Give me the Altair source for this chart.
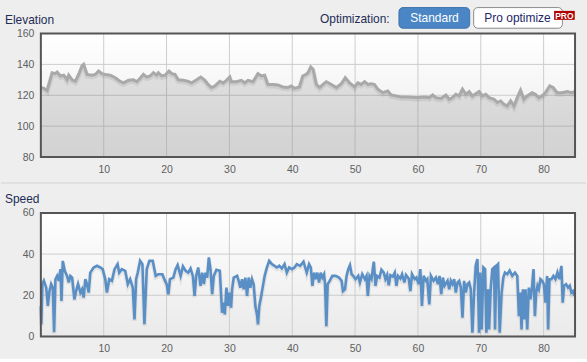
import altair as alt
import pandas as pd

# ---------------- data ----------------
elev_km = [0, 0.48, 1.0, 1.27, 1.8, 2.32, 2.59, 3.12, 3.64, 4.17,
           4.44, 4.97, 5.49, 6.02, 6.55, 6.81, 7.34, 8.13, 8.66, 9.19,
           9.72, 10.25, 11.04, 11.83, 12.63, 13.15, 13.95, 14.74, 15.27, 15.8,
           16.32, 16.85, 17.38, 17.91, 18.44, 18.7, 19.23, 19.76, 20.39, 20.81,
           21.34, 21.87, 22.66, 23.45, 23.98, 24.78, 25.46, 26.1, 26.62, 27.15,
           27.68, 28.47, 29.0, 29.53, 30.06, 30.32, 31.11, 31.91, 32.44, 32.96,
           33.76, 34.55, 35.08, 35.6, 36.13, 36.93, 37.72, 38.51, 39.3, 39.83,
           40.36, 41.15, 41.68, 42.21,
           42.52, 42.95, 43.32, 43.85, 44.37, 44.9, 45.43, 46.22, 47.02, 47.81,
           48.44, 49.13, 49.92, 50.45, 50.98, 51.51, 52.03, 52.56, 53.09, 53.62,
           54.41, 55.2, 55.73, 56.52, 57.32, 58.37, 59.43, 60.22, 61.01, 61.81,
           62.34, 62.86, 63.66, 64.45, 64.98, 65.5, 66.03, 66.56, 67.09, 67.62,
           68.15, 68.67, 69.2, 69.73, 70.26, 70.79, 71.32, 72.11, 72.64, 73.16,
           73.69, 74.22, 74.75, 75.28, 75.81, 76.33, 76.86, 77.39, 78.18, 78.71,
           79.24, 79.77, 80.3, 80.98, 81.51, 82.14, 82.94, 83.73, 84.52, 85]
elev_m = [125, 124.5, 123, 127, 134.6, 134, 135, 132.5, 133, 130,
          133, 130, 129, 133.5, 139, 140, 133.5, 133, 133.5, 135.7,
          134, 133.5, 133, 131.4, 129, 128, 129.7, 130, 128.8, 131,
          133.5, 131.8, 132.5, 134.6, 133, 134.6, 132.5, 133, 135.7, 134,
          133.5, 130, 129.7, 129, 128, 130, 131.8, 129.7, 127, 125,
          126, 129, 128, 129.7, 131.8, 128.8, 128.8, 129.7, 128, 129.7,
          128.8, 134, 132.5, 133, 127, 127, 126.7, 125.4, 125, 126,
          124.5, 125.4, 132.5, 133.5,
          134.6, 138.3, 136.8, 127, 125, 127, 128.8, 127, 125, 127.5,
          131.4, 128, 125.4, 128, 127, 128.8, 127, 127.5, 127, 123.9,
          121.7, 122.8, 120.2, 119.6, 118.9, 118.9, 118.5, 118.5, 118.9, 118.5,
          120.2, 118.5, 118, 120.2, 117.4, 118.5, 120.6, 119.6, 123.9, 120.6,
          122.4, 119.6, 121, 122.4, 119.6, 120.6, 118.5, 117.4, 115.3, 116.3,
          114.2, 113.1, 116.3, 113.1, 118.5, 123.2, 117.4, 119.6, 121.7, 120.6,
          118.5, 119.6, 121.7, 126, 125, 121.7, 121.7, 122.4, 121.7, 122.5]

speed_km = [0, 0.08, 0.25, 0.48, 0.85, 1.11, 1.37, 1.64, 1.90, 2.11,
            2.32, 2.59, 2.85, 3.12, 3.28, 3.49, 3.80, 4.17, 4.44, 4.70,
            4.97, 5.34, 5.60, 5.92, 6.29, 6.55, 6.81, 7.08, 7.34, 7.61,
            7.87, 8.40, 8.93, 9.46, 9.83, 10.25, 10.51, 10.88, 11.30, 11.73,
            12.20, 12.47, 12.89, 13.42, 13.84, 14.21, 14.63, 14.90, 15.16, 15.42,
            15.80, 16.16, 16.48, 16.85, 17.27, 17.80, 18.28, 18.70, 19.33, 19.65,
            20.02, 20.29, 20.55, 21.08, 21.45, 21.76,
            22.24, 22.61, 23.03, 23.45, 23.82, 24.19, 24.46, 24.72, 25.04, 25.41,
            25.67, 25.94, 26.20, 26.47, 26.73, 26.99, 27.26, 27.52, 27.94, 28.47,
            28.84, 29.11, 29.27, 29.53, 29.79, 30.00, 30.27, 30.43, 30.69, 31.22,
            31.48, 31.75, 32.01, 32.28, 32.54, 32.81, 33.07, 33.33, 33.60, 33.86,
            34.13, 34.39, 34.55, 34.76, 35.02, 35.29, 35.61, 35.97, 36.34, 36.77,
            37.19, 37.56, 37.93, 38.35, 38.77, 39.14, 39.51, 39.94, 40.36, 40.73,
            41.26, 41.79, 42.31, 42.68,
            42.95, 43.21, 43.48, 43.74, 44.00, 44.27, 44.53, 44.80, 45.06, 45.22,
            45.43, 45.64, 45.96, 46.38, 46.91, 47.44, 47.86, 48.07, 48.39, 48.65,
            48.92, 49.18, 49.45, 49.71, 50.08, 50.50, 50.77, 51.14, 51.56, 51.82,
            52.03, 52.30, 52.61, 52.98, 53.25, 53.51, 53.88, 54.20, 54.57, 54.83,
            55.10, 55.36, 55.63, 56.00, 56.31, 56.58, 56.84, 57.21, 57.48, 57.84,
            58.11, 58.53, 58.80, 59.06, 59.48, 59.75, 60.12, 60.38, 60.64, 60.91,
            61.28, 61.49, 61.81, 62.07, 62.49, 62.86, 63.18, 63.44, 63.71, 63.97,
            64.24,
            64.71, 64.98, 65.24, 65.50, 65.77, 66.03, 66.30, 66.56, 66.83, 67.09,
            67.35, 67.62, 67.88, 68.15, 68.41, 68.67, 68.94, 69.20, 69.47, 69.73,
            69.94, 70.15, 70.42, 70.68, 70.89, 71.16, 71.32, 71.58, 71.84, 72.11,
            72.27, 72.48, 72.74, 73.01, 73.32, 73.59, 73.85, 74.22, 74.59, 75.01,
            75.44, 75.81, 76.07, 76.28, 76.49, 76.70, 76.91, 77.13, 77.39, 77.65,
            77.92, 78.18, 78.39, 78.61, 78.82, 79.03, 79.24, 79.50, 79.77, 80.03,
            80.30, 80.56, 80.72, 80.93, 81.25, 81.56, 81.88, 82.20, 82.51, 82.83,
            83.04, 83.25, 83.57, 83.89, 84.15, 84.42, 84.68, 84.89]
speed_kmh = [14.8, 5.9, 25.4, 27, 23.7, 14.8, 22, 25.4, 23.7, 2.1,
             27.8, 29.4, 27, 32.7, 17.2, 36.7, 31.9, 29.4, 26.2, 29.4,
             28.6, 18, 22, 25.4, 21.3, 22.9, 18.9, 27.8, 25.4, 21.3,
             31, 33.5, 34.3, 33.5, 32.7, 27.8, 21.3, 27.8, 27, 32.7,
             35.1, 31, 32.7, 31.9, 25.4, 27.8, 23.7, 8.3, 27.8, 31,
             36.7, 35.1, 5.9, 32.7, 36.7, 36.7, 29.4, 30.2, 30.2, 27.8,
             25.4, 20.5, 27.8, 28.6, 32.7, 34.6,
             29.4, 34, 31.9, 31, 33, 29.4, 19.7, 29.4, 33.5, 24.6,
             31, 25.4, 31, 28.6, 38.4, 32.7, 20.5, 29.4, 32.4, 31.9,
             11.5, 16.4, 10.7, 23.7, 14.8, 21.3, 14, 22.9, 28.6, 29.4,
             27, 23.7, 27.8, 22.9, 28.6, 19.7, 28.6, 23.7, 27.8, 25.4,
             14.8, 10.7, 5.9, 14.8, 18.9, 23.7, 29.4, 33.5, 36.7, 35.1,
             34.3, 33.5, 34.3, 33, 35.1, 31, 33.5, 32.7, 33.5, 35.1,
             34.3, 36.3, 31, 35.1,
             33.5, 24.6, 31, 27.8, 31, 26.2, 31, 28.6, 30.2, 25.4,
             5, 25.4, 27, 29.4, 29.4, 28.6, 27, 22, 22.9, 29.4,
             32.7, 34.6, 30.2, 29.4, 27.8, 29.4, 26.2, 30.2, 27.8, 29.4,
             19.7, 29.4, 27.8, 36.3, 24.6, 29.4, 28.6, 32.4, 31, 27.8,
             29.8, 24.9, 29.8, 29.1, 31, 24.6, 29.4, 28.1, 30.2, 26.2,
             29.8, 28.1, 22, 30.2, 27.8, 28.6, 25.4, 32.7, 14.8, 29.4,
             27, 27.8, 15.6, 29.4, 27, 28.6, 25.4, 29.4, 20.5, 28.6,
             24.6,
             27, 22.9, 27, 25.4, 27.8, 21.3, 26.2, 27, 23.7, 9.1,
             27, 21.3, 25.4, 26.2, 22.9, 1.8, 21.3, 34.3, 37.6, 1.8,
             31, 3.4, 33.5, 32.7, 1.8, 22.9, 3.4, 22.9, 32.7, 33.5,
             3.4, 34.3, 35.1, 1.8, 21.3, 28.6, 31, 30.2, 32, 29.4,
             31, 29.4, 9.9, 21.3, 3.4, 22.9, 8.3, 22.9, 3.4, 23.7,
             18, 24.6, 32.7, 9.9, 21.3, 24.6, 22.9, 27.8, 27, 25.4,
             16.4, 29.4, 3.4, 27.8, 27.8, 29.4, 27.8, 31, 27.8, 34.3,
             16.4, 24.6, 25.4, 23.7, 24.6, 21.3, 22, 19.7]

x_ticks = [10, 20, 30, 40, 50, 60, 70, 80]
elev_ticks = [80, 100, 120, 140, 160]
speed_ticks = [0, 20, 40, 60]

FONT = "Liberation Sans"
TITLE_COLOR = "#1d2d55"
LABEL_COLOR = "#606060"
GRID = "#cdcdcd"
W, H = 536, 124

elev_df = pd.DataFrame({"km": elev_km, "elev": elev_m})
speed_df = pd.DataFrame({"km": speed_km, "speed": speed_kmh})
one = pd.DataFrame({"a": [0]})

x_axis = alt.Axis(values=x_ticks, title=None, grid=False, domain=False, ticks=False,
                  labelPadding=7, labelFlush=False)
x_scale = alt.Scale(domain=[0, 85], nice=False, zero=False)
x_enc = alt.X("km:Q", scale=x_scale, axis=x_axis)

BG = alt.LinearGradient(
    gradient="linear", x1=0, x2=0, y1=0, y2=1,
    stops=[alt.GradientStop(color="#ffffff", offset=0),
           alt.GradientStop(color="#eaeaea", offset=1)])


def deco_text(txt, x, y, size=12, color=TITLE_COLOR, align="left", weight="normal"):
    return alt.Chart(one).mark_text(
        text=txt, align=align, baseline="middle", font=FONT, fontSize=size,
        color=color, fontWeight=weight
    ).encode(x=alt.value(x), y=alt.value(y))


def deco_rect(x, x2, y, y2, fill, stroke=None, radius=0, sw=1):
    kw = dict(fill=fill, cornerRadius=radius)
    if stroke:
        kw.update(stroke=stroke, strokeWidth=sw)
    return alt.Chart(one).mark_rect(**kw).encode(
        x=alt.value(x), x2=alt.value(x2), y=alt.value(y), y2=alt.value(y2))


def background():
    return alt.Chart(one).mark_rect(fill=BG).encode(
        x=alt.value(0), x2=alt.value(W), y=alt.value(0), y2=alt.value(H))


def frame():
    return alt.Chart(one).mark_rect(fill="transparent", stroke="#555555", strokeWidth=2).encode(
        x=alt.value(0), x2=alt.value(W), y=alt.value(0), y2=alt.value(H))


def vgrid():
    return alt.Chart(pd.DataFrame({"km": x_ticks})).mark_rule(
        color=GRID, strokeWidth=1).encode(x=alt.X("km:Q", scale=x_scale, axis=x_axis))


def hgrid(field, ticks, yenc):
    return alt.Chart(pd.DataFrame({field: ticks})).mark_rule(
        color=GRID, strokeWidth=1).encode(y=yenc)


# ---------------- elevation ----------------
ey = alt.Y("elev:Q", scale=alt.Scale(domain=[80, 160], nice=False, zero=False),
           axis=alt.Axis(values=elev_ticks, title=None, domain=False, ticks=False,
                         grid=False, labelPadding=7))
elev_area = alt.Chart(elev_df).mark_area(
    color="#000000", opacity=0.1, interpolate="linear"
).encode(x=x_enc, y=ey, y2=alt.datum(80))
elev_shadow = alt.Chart(elev_df).mark_line(
    color="#000000", opacity=0.07, strokeWidth=5, yOffset=1.5
).encode(x=x_enc, y=ey)
elev_line = alt.Chart(elev_df).mark_line(
    color="#a9a9a9", strokeWidth=3
).encode(x=x_enc, y=ey)

top = alt.layer(
    background(), vgrid(), hgrid("elev", elev_ticks, ey),
    elev_area, elev_shadow, elev_line, frame(),
    deco_text("Elevation", -36, -14),
    deco_text("Optimization:", 350, -15, color=TITLE_COLOR, align="right"),
    deco_rect(359.3, 430.3, -26, -5.3, "#4a86c6", stroke="#3f72aa", radius=4),
    deco_text("Standard", 395, -15.5, color="#ffffff", align="center"),
    deco_rect(434.3, 523.3, -26, -5.3, "#ffffff", stroke="#8a8a8a", radius=4),
    deco_text("Pro optimize", 445, -15.5, color="#25256a"),
    deco_rect(515, 535.7, -22.7, -13.7, "#b00000"),
    deco_text("PRO", 525.3, -18, size=8.5, color="#ffffff", align="center", weight="bold"),
).properties(width=W, height=H)

# ---------------- speed ----------------
sy = alt.Y("speed:Q", scale=alt.Scale(domain=[0, 60], nice=False),
           axis=alt.Axis(values=speed_ticks, title=None, domain=False, ticks=False,
                         grid=False, labelPadding=7))
speed_shadow = alt.Chart(speed_df).mark_line(
    color="#000000", opacity=0.07, strokeWidth=4.5, yOffset=1.5
).encode(x=x_enc, y=sy)
speed_line = alt.Chart(speed_df).mark_line(
    color="#5a8fc6", strokeWidth=2.6
).encode(x=x_enc, y=sy)
sep = alt.Chart(one).mark_rule(color="#d2d2d2", strokeWidth=1).encode(
    x=alt.value(-40), x2=alt.value(547), y=alt.value(-30))

bottom = alt.layer(
    background(), vgrid(), hgrid("speed", speed_ticks, sy),
    sep, speed_shadow, speed_line, frame(),
    deco_text("Speed", -36, -14),
).properties(width=W, height=H)

chart = alt.vconcat(top, bottom, spacing=56, bounds="flush").properties(
    background="#eeeeee",
    padding={"left": 0, "top": 6, "right": 0, "bottom": 4},
    autosize=alt.AutoSizeParams(type="pad"),
).configure_view(
    strokeWidth=0,
).configure_axis(
    labelColor=LABEL_COLOR, labelFont=FONT, labelFontSize=10.5,
)

chart.save("out.html", embed_options={"renderer": "svg", "actions": False})
